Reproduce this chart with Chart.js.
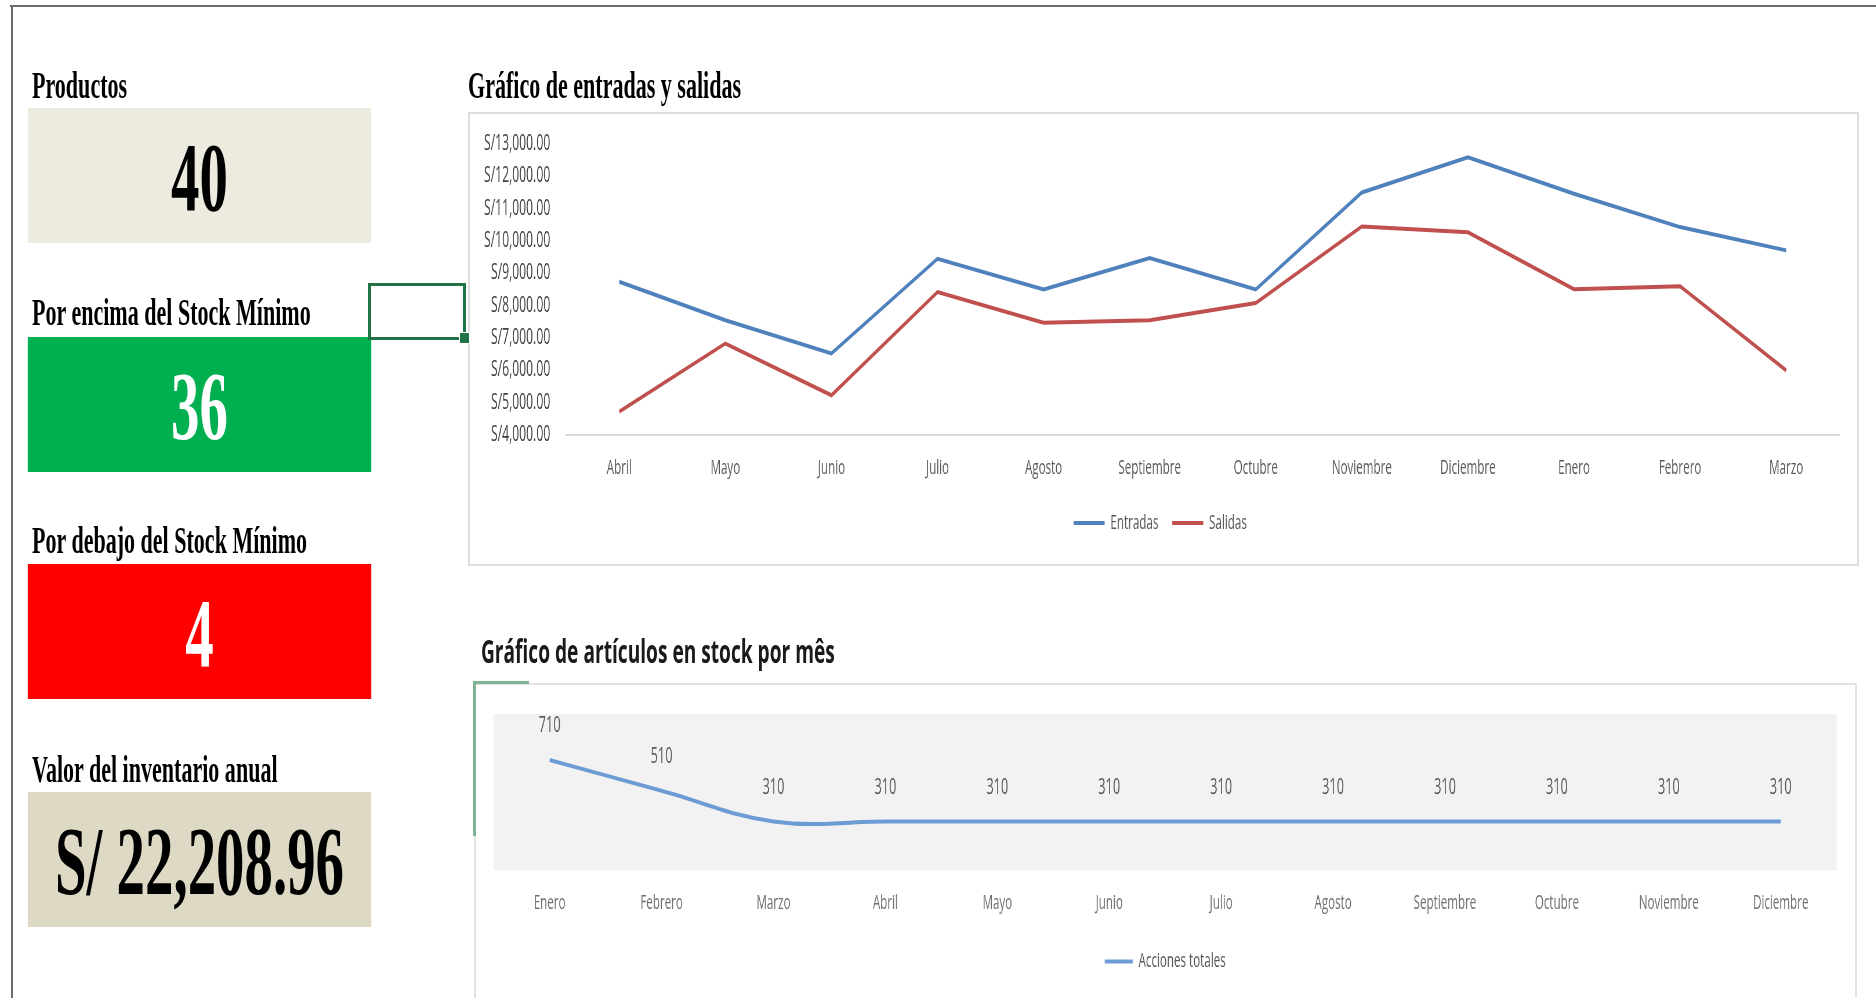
<!DOCTYPE html>
<html lang="es">
<head>
<meta charset="utf-8">
<title>Inventario</title>
<script src="https://cdn.jsdelivr.net/npm/chart.js"></script>
<style>
  :root { --s: 0.58; }
  html, body { margin: 0; padding: 0; background: #fff; overflow: hidden; width: 1876px; height: 998px; }
  .abs { position: absolute; }

  /* the whole sheet is squeezed horizontally, like the screenshot */
  #page { position: absolute; left: 0; top: 0; width: calc(1876px / var(--s)); height: 998px;
          transform: scaleX(var(--s)); transform-origin: 0 0; }

  .label { position: absolute; left: calc(32px / var(--s)); font-family: "Liberation Serif", serif;
           font-weight: bold; font-size: 38px; line-height: 1; color: #000; white-space: nowrap; }
  .kpi { position: absolute; left: calc(28px / var(--s)); width: calc(343px / var(--s)); height: 135px;
         display: flex; align-items: center; justify-content: center; padding-top: 3px; box-sizing: border-box;
         font-family: "Liberation Serif", serif; font-weight: bold; font-size: 98px; line-height: 1; white-space: nowrap; }
  .title2 { position: absolute; font-family: "Open Sans", sans-serif; font-weight: bold; font-size: 33px;
            line-height: 1; color: #1a1a1a; white-space: nowrap; }
  .chartBox { position: absolute; }

  .frameTop { left: 10px; top: 5px; width: 1866px; height: 2px; background: #6b6b6b; }
  .frameLeft { left: 11px; top: 5px; width: 2px; height: 993px; background: #6b6b6b; }
  .box1 { left: 468px; top: 112px; width: 1387px; height: 450px; border: 2px solid #dedede; }
  .box2 { left: 474px; top: 683px; width: 1379px; height: 330px; border: 2px solid #e3e3e3; }
  .sel { left: 368px; top: 283px; width: 98px; height: 57px; border: 3px solid #217346; box-sizing: border-box; }
  .selHandle { left: 459px; top: 332px; width: 9px; height: 10px; background: #217346; border: 1px solid #fff; }
  .accTop { left: 473px; top: 681px; width: 56px; height: 3px; background: #7fb393; }
  .accLeft { left: 473px; top: 681px; width: 3px; height: 155px; background: #7fb393; }
</style>
</head>
<body>

<div class="abs frameTop"></div>
<div class="abs frameLeft"></div>
<div class="abs box1"></div>
<div class="abs box2"></div>

<div id="page">
  <div class="label" style="top:66px">Productos</div>
  <div class="kpi" style="top:108px; background:#edebe0; color:#000">40</div>

  <div class="label" style="top:293px">Por encima del Stock Mínimo</div>
  <div class="kpi" style="top:337px; background:#00b050; color:#fff">36</div>

  <div class="label" style="top:521px">Por debajo del Stock Mínimo</div>
  <div class="kpi" style="top:564px; background:#ff0000; color:#fff">4</div>

  <div class="label" style="top:750px">Valor del inventario anual</div>
  <div class="kpi" style="top:792px; background:#ddd9c4; color:#000">S/ 22,208.96</div>

  <div class="label" style="top:66px; left:calc(468px / var(--s))">Gráfico de entradas y salidas</div>
  <div class="chartBox" style="left:calc(469px / var(--s)); top:114px; width:calc(1389px / var(--s)); height:451px">
    <canvas id="flujoChart"></canvas>
  </div>

  <div class="title2" style="top:634px; left:calc(481px / var(--s))">Gráfico de artículos en stock por mês</div>
  <div class="chartBox" style="left:calc(476px / var(--s)); top:684px; width:calc(1379px / var(--s)); height:314px">
    <canvas id="stockChart"></canvas>
  </div>
</div>

<div class="abs sel"></div>
<div class="abs selHandle"></div>
<div class="abs accTop"></div>
<div class="abs accLeft"></div>

<script>
const S = 0.58; // same squeeze as --s

const mesesFlujo = ["Abril", "Mayo", "Junio", "Julio", "Agosto", "Septiembre", "Octubre",
                    "Noviembre", "Diciembre", "Enero", "Febrero", "Marzo"];
const entradas = [8740, 7550, 6520, 9450, 8500, 9470, 8500, 11500, 12590, 11460, 10430, 9710];
const salidas  = [4720, 6830, 5230, 8420, 7470, 7550, 8080, 10450, 10270, 8510, 8600, 6000];
const flujoTicks = [4000, 5000, 6000, 7000, 8000, 9000, 10000, 11000, 12000, 13000];

const mesesStock = ["Enero", "Febrero", "Marzo", "Abril", "Mayo", "Junio", "Julio",
                    "Agosto", "Septiembre", "Octubre", "Noviembre", "Diciembre"];
const accionesTotales = [710, 510, 310, 310, 310, 310, 310, 310, 310, 310, 310, 310];

const FONT = "Open Sans";

function soles(v) {
    return "S/" + v.toLocaleString("en-US", { minimumFractionDigits: 2, maximumFractionDigits: 2 });
}

// grey plot area behind the stock line
const plotBg = {
    id: "plotBg",
    beforeDraw(chart, args, opts) {
        if (!opts.color) return;
        const { ctx, chartArea: a } = chart;
        ctx.save();
        ctx.fillStyle = opts.color;
        ctx.fillRect(a.left, a.top, a.width, a.height);
        ctx.restore();
    }
};

// value labels above each point
const valueLabels = {
    id: "valueLabels",
    afterDatasetsDraw(chart, args, opts) {
        const ctx = chart.ctx;
        const meta = chart.getDatasetMeta(0);
        const values = chart.data.datasets[0].data;
        ctx.save();
        ctx.font = opts.size + "px '" + FONT + "'";
        ctx.fillStyle = opts.color;
        ctx.textAlign = "center";
        ctx.textBaseline = "middle";
        meta.data.forEach((pt, i) => {
            ctx.fillText(String(values[i]), pt.x, pt.y - opts.offset);
        });
        ctx.restore();
    }
};

new Chart(document.getElementById("flujoChart"), {
    type: "line",
    data: {
        labels: mesesFlujo,
        datasets: [
            { label: "Entradas", data: entradas, borderColor: "#4f81bd", backgroundColor: "#4f81bd",
              borderWidth: 4, pointRadius: 0, tension: 0 },
            { label: "Salidas", data: salidas, borderColor: "#c0504d", backgroundColor: "#c0504d",
              borderWidth: 4, pointRadius: 0, tension: 0 }
        ]
    },
    options: {
        responsive: true,
        maintainAspectRatio: false,
        animation: false,
        layout: { padding: { top: 30, right: 19 / S, bottom: 22, left: 12 / S } },
        plugins: {
            tooltip: { enabled: false },
            legend: {
                position: "bottom",
                labels: {
                    usePointStyle: true,
                    pointStyle: "line",
                    pointStyleWidth: 31 / S,
                    padding: 24,
                    color: "#595959",
                    font: { family: FONT, size: 20 }
                }
            }
        },
        scales: {
            x: {
                offset: true,
                grid: { display: false },
                border: { display: true, color: "#d9d9d9", width: 2 },
                ticks: { color: "#595959", font: { family: FONT, size: 20 }, padding: 13.5,
                         maxRotation: 0, autoSkip: false },
                afterFit: (axis) => { axis.height = 54; }
            },
            y: {
                min: 4000,
                max: 13000,
                grid: { display: false, drawTicks: false },
                border: { display: false },
                ticks: { color: "#404040", font: { family: FONT, size: 21 }, padding: 16 / S,
                         callback: (v) => soles(v) },
                afterBuildTicks: (axis) => { axis.ticks = flujoTicks.map(v => ({ value: v })); },
                afterFit: (axis) => {
                    axis.width = 85 / S;
                    axis.paddingTop = 0;
                    axis.paddingBottom = 0;
                }
            }
        }
    }
});

new Chart(document.getElementById("stockChart"), {
    type: "line",
    data: {
        labels: mesesStock,
        datasets: [
            { label: "Acciones totales", data: accionesTotales, borderColor: "#6d9cd4",
              backgroundColor: "#6d9cd4", borderWidth: 4, pointRadius: 0, tension: 0.4 }
        ]
    },
    plugins: [plotBg, valueLabels],
    options: {
        responsive: true,
        maintainAspectRatio: false,
        animation: false,
        layout: { padding: { top: 30, right: 18.5 / S, bottom: 16.5, left: 17.5 / S } },
        plugins: {
            tooltip: { enabled: false },
            plotBg: { color: "#f2f2f2" },
            valueLabels: { size: 22, color: "#595959", offset: 34 },
            legend: {
                position: "bottom",
                labels: {
                    usePointStyle: true,
                    pointStyle: "line",
                    pointStyleWidth: 28 / S,
                    padding: 24,
                    color: "#595959",
                    font: { family: FONT, size: 20 }
                }
            }
        },
        scales: {
            x: {
                offset: true,
                grid: { display: false },
                border: { display: false },
                ticks: { color: "#6f6f6f", font: { family: FONT, size: 20 }, padding: 13,
                         maxRotation: 0, autoSkip: false },
                afterFit: (axis) => { axis.height = 57; }
            },
            y: {
                display: false,
                min: -10,
                max: 1010
            }
        }
    }
});
</script>
</body>
</html>
